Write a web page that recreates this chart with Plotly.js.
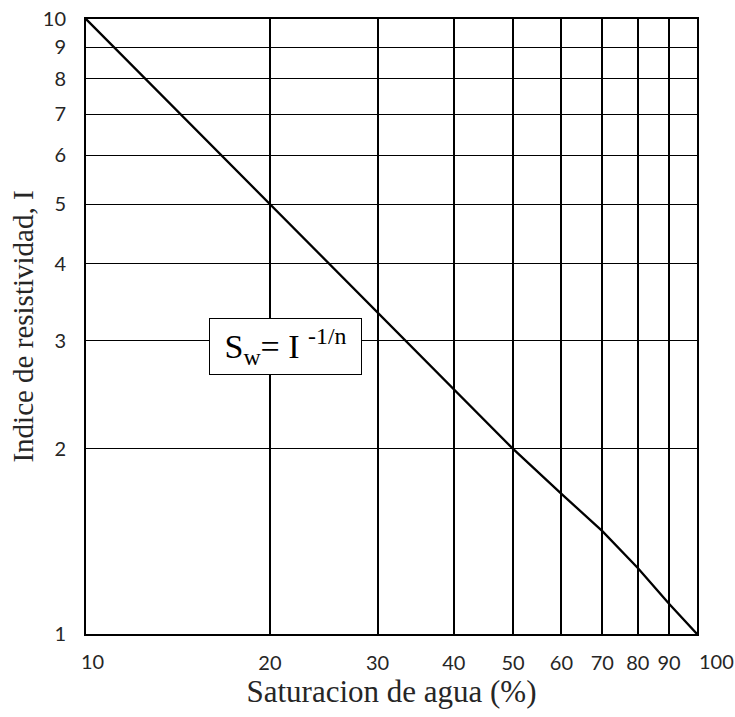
<!DOCTYPE html>
<html><head><meta charset="utf-8">
<script src="https://cdn.plot.ly/plotly-3.0.1.min.js"></script>
<style>html,body{margin:0;padding:0;background:#fff}#chart{width:735px;height:717px}</style>
</head><body><div id="chart"></div>
<script>
const saturacion = [10, 20, 30, 40, 50, 60, 70, 80, 90, 100];
const indice = [10, 5, 3.33, 2.5, 2, 1.69, 1.47, 1.28, 1.12, 1];
const xTicks = [10, 20, 30, 40, 50, 60, 70, 80, 90, 100];
const yTicks = [1, 2, 3, 4, 5, 6, 7, 8, 9, 10];

const tickFont = {family: 'Lato, "Open Sans", sans-serif', size: 20, color: '#262626'};
const serif = '"Liberation Serif", "Times New Roman", serif';

// end tick labels (10 and 100) are drawn as annotations, nudged right as in the reference
const edgeShift = {10: 6, 100: 19};
const xTickText = xTicks.map(v => (v in edgeShift) ? '' : String(v));
const edgeLabels = xTicks.filter(v => v in edgeShift).map(v => ({
  x: Math.log10(v), y: 0, xref: 'x', yref: 'paper', yanchor: 'top', yshift: -13,
  xshift: edgeShift[v], text: String(v), showarrow: false, font: tickFont
}));

Plotly.newPlot('chart', [{
  x: saturacion, y: indice, type: 'scatter', mode: 'lines',
  line: {color: '#000', width: 2.3}, hoverinfo: 'skip', showlegend: false
}], {
  width: 735, height: 717,
  margin: {l: 86, r: 38, t: 19, b: 83},
  paper_bgcolor: '#fff', plot_bgcolor: '#fff',
  xaxis: {
    type: 'log', range: [1, 2], tickvals: xTicks, ticktext: xTickText,
    showgrid: true, gridcolor: '#000', gridwidth: 2, tickangle: 0,
    showline: true, linecolor: '#000', linewidth: 2, mirror: true,
    ticks: '', ticklabelstandoff: 10, tickfont: tickFont, zeroline: false,
    title: {text: 'Saturacion de agua (%)', font: {family: serif, size: 31, color: '#262626'}, standoff: 6}
  },
  yaxis: {
    type: 'log', range: [0, 1], tickvals: yTicks, ticktext: yTicks.map(String),
    showgrid: true, gridcolor: '#000', gridwidth: 1, tickangle: 0,
    showline: true, linecolor: '#000', linewidth: 2, mirror: true,
    ticks: '', ticklabelstandoff: 14, tickfont: tickFont, zeroline: false,
    title: {text: 'Indice de resistividad, I', font: {family: serif, size: 29, color: '#262626'}, standoff: 1}
  },
  annotations: [{
    x: Math.log10(21.2), y: Math.log10(2.93), xref: 'x', yref: 'y',
    text: 'S<sub>w</sub>= I <sup>-1/n</sup>', showarrow: false,
    font: {family: serif, size: 34, color: '#000'},
    bgcolor: '#fff', bordercolor: '#000', borderwidth: 1, borderpad: 3,
    width: 145, height: 49
  }].concat(edgeLabels)
}, {displayModeBar: false, staticPlot: true});
</script></body></html>
